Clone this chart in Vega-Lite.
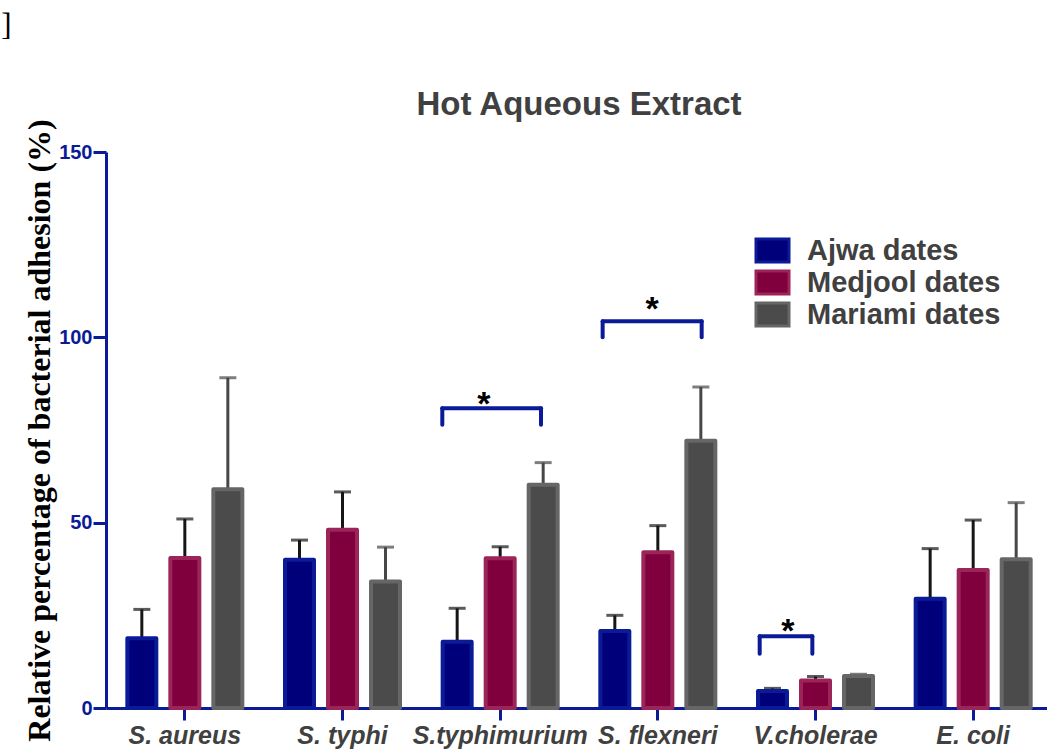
{
  "$schema": "https://vega.github.io/schema/vega-lite/v6.json",
  "width": 946,
  "height": 556,
  "autosize": {"type": "none"},
  "padding": {"left": 106, "top": 152, "right": 0, "bottom": 41},
  "background": "white",
  "title": {
    "text": "Hot Aqueous Extract",
    "font": "Liberation Sans",
    "fontSize": 33,
    "fontWeight": "bold",
    "color": "#404040",
    "anchor": "middle",
    "frame": "group",
    "baseline": "alphabetic",
    "offset": -138
  },
  "datasets": {
    "adhesion": [
      {"bacterium": "S. aureus", "dates": "Ajwa dates", "value": 18.8, "upper": 26.6},
      {"bacterium": "S. aureus", "dates": "Medjool dates", "value": 40.5, "upper": 51.0},
      {"bacterium": "S. aureus", "dates": "Mariami dates", "value": 59.0, "upper": 89.1},
      {"bacterium": "S. typhi", "dates": "Ajwa dates", "value": 40.0, "upper": 45.3},
      {"bacterium": "S. typhi", "dates": "Medjool dates", "value": 48.1, "upper": 58.3},
      {"bacterium": "S. typhi", "dates": "Mariami dates", "value": 34.1, "upper": 43.4},
      {"bacterium": "S.typhimurium", "dates": "Ajwa dates", "value": 17.9, "upper": 26.9},
      {"bacterium": "S.typhimurium", "dates": "Medjool dates", "value": 40.4, "upper": 43.5},
      {"bacterium": "S.typhimurium", "dates": "Mariami dates", "value": 60.2, "upper": 66.2},
      {"bacterium": "S. flexneri", "dates": "Ajwa dates", "value": 20.8, "upper": 25.0},
      {"bacterium": "S. flexneri", "dates": "Medjool dates", "value": 42.0, "upper": 49.2},
      {"bacterium": "S. flexneri", "dates": "Mariami dates", "value": 72.1, "upper": 86.6},
      {"bacterium": "V.cholerae", "dates": "Ajwa dates", "value": 4.6, "upper": 5.3},
      {"bacterium": "V.cholerae", "dates": "Medjool dates", "value": 7.4, "upper": 8.5},
      {"bacterium": "V.cholerae", "dates": "Mariami dates", "value": 8.6, "upper": 9.1},
      {"bacterium": "E. coli", "dates": "Ajwa dates", "value": 29.5, "upper": 43.0},
      {"bacterium": "E. coli", "dates": "Medjool dates", "value": 37.2, "upper": 50.7},
      {"bacterium": "E. coli", "dates": "Mariami dates", "value": 40.1, "upper": 55.4}
    ],
    "significance": [
      {"from": 2.133, "to": 2.759, "top": 80.85, "bottom": 76.4, "starX": 2.397, "starY": 84.44, "label": "*"},
      {"from": 3.150, "to": 3.778, "top": 104.35, "bottom": 100.0, "starX": 3.463, "starY": 110.07, "label": "*"},
      {"from": 4.146, "to": 4.480, "top": 19.34, "bottom": 14.65, "starX": 4.325, "starY": 23.28, "label": "*"}
    ],
    "marginalia": [
      {"px": -0.631, "py": 181.6, "label": "]"}
    ]
  },
  "layer": [
    {
      "data": {"name": "adhesion"},
      "layer": [
        {
          "mark": {"type": "rule", "strokeWidth": 3},
          "encoding": {
            "x": {"field": "bacterium", "type": "nominal", "sort": null},
            "xOffset": {"field": "dates", "type": "nominal", "sort": null},
            "y": {"field": "value", "type": "quantitative", "scale": {"domain": [0, 150]}},
            "y2": {"field": "upper"},
            "color": {"condition": {"test": "datum.dates === 'Mariami dates'", "value": "#474747"}, "value": "#161616"}
          }
        },
        {
          "mark": {"type": "tick", "thickness": 3, "size": 17},
          "encoding": {
            "x": {"field": "bacterium", "type": "nominal", "sort": null},
            "xOffset": {"field": "dates", "type": "nominal", "sort": null},
            "y": {"field": "upper", "type": "quantitative", "scale": {"domain": [0, 150]}},
            "color": {"condition": {"test": "datum.dates === 'Mariami dates'", "value": "#474747"}, "value": "#161616"}
          }
        },
        {
          "mark": {"type": "bar", "strokeWidth": 4, "strokeJoin": "round"},
          "encoding": {
            "x": {
              "field": "bacterium",
              "type": "nominal",
              "sort": null,
              "scale": {"paddingInner": 0, "paddingOuter": 0},
              "axis": {
                "title": null,
                "labelAngle": 0,
                "labelAlign": "center",
                "labelBaseline": "top",
                "labelOverlap": false,
                "bandPosition": 0.5,
                "ticks": true,
                "domainColor": "#0b1b98",
                "domainWidth": 3,
                "tickColor": "#0b1b98",
                "tickWidth": 3,
                "tickSize": 12,
                "labelFont": "Liberation Sans",
                "labelFontSize": 25,
                "labelFontWeight": "bold",
                "labelFontStyle": "italic",
                "labelColor": "#404040",
                "labelPadding": 3
              }
            },
            "xOffset": {
              "field": "dates",
              "type": "nominal",
              "sort": null,
              "scale": {"paddingInner": 0.326, "paddingOuter": 0.496}
            },
            "y": {
              "field": "value",
              "type": "quantitative",
              "scale": {"domain": [0, 150]},
              "axis": {
                "title": "Relative percentage of bacterial adhesion (%)",
                "values": [0, 50, 100, 150],
                "grid": false,
                "domainColor": "#0b1b98",
                "domainWidth": 3,
                "tickColor": "#0b1b98",
                "tickWidth": 3,
                "tickSize": 13,
                "labelFont": "Liberation Sans",
                "labelFontSize": 20,
                "labelFontWeight": "bold",
                "labelColor": "#0b1b98",
                "labelPadding": 1,
                "titleFont": "Liberation Serif",
                "titleFontSize": 32,
                "titleFontWeight": "bold",
                "titleColor": "#000000",
                "titlePadding": 2
              }
            },
            "fill": {
              "field": "dates",
              "type": "nominal",
              "sort": null,
              "scale": {
                "domain": ["Ajwa dates", "Medjool dates", "Mariami dates"],
                "range": ["#00007b", "#7f003c", "#4b4b4b"]
              },
              "legend": {"title": null}
            },
            "stroke": {
              "field": "dates",
              "type": "nominal",
              "sort": null,
              "scale": {
                "domain": ["Ajwa dates", "Medjool dates", "Mariami dates"],
                "range": ["#0b1b98", "#9b2559", "#666666"]
              },
              "legend": {"title": null}
            }
          }
        }
      ]
    },
    {
      "data": {"name": "significance"},
      "layer": [
        {
          "mark": {"type": "rule", "strokeWidth": 4, "color": "#0b1b98", "strokeCap": "round"},
          "encoding": {
            "x": {"field": "from", "type": "quantitative", "scale": {"domain": [0, 6], "nice": false, "zero": false}, "axis": null},
            "x2": {"field": "to"},
            "y": {"field": "top", "type": "quantitative", "scale": {"domain": [0, 150]}}
          }
        },
        {
          "mark": {"type": "rule", "strokeWidth": 4, "color": "#0b1b98", "strokeCap": "round"},
          "encoding": {
            "x": {"field": "from", "type": "quantitative", "scale": {"domain": [0, 6], "nice": false, "zero": false}, "axis": null},
            "y": {"field": "bottom", "type": "quantitative", "scale": {"domain": [0, 150]}},
            "y2": {"field": "top"}
          }
        },
        {
          "mark": {"type": "rule", "strokeWidth": 4, "color": "#0b1b98", "strokeCap": "round"},
          "encoding": {
            "x": {"field": "to", "type": "quantitative", "scale": {"domain": [0, 6], "nice": false, "zero": false}, "axis": null},
            "y": {"field": "bottom", "type": "quantitative", "scale": {"domain": [0, 150]}},
            "y2": {"field": "top"}
          }
        },
        {
          "mark": {"type": "text", "font": "Liberation Sans", "fontSize": 34, "fontWeight": "bold", "color": "#000000", "align": "center", "baseline": "alphabetic", "dy": 20},
          "encoding": {
            "x": {"field": "starX", "type": "quantitative", "scale": {"domain": [0, 6], "nice": false, "zero": false}, "axis": null},
            "y": {"field": "starY", "type": "quantitative", "scale": {"domain": [0, 150]}},
            "text": {"field": "label"}
          }
        },
        {
          "data": {"name": "marginalia"},
          "mark": {"type": "text", "font": "Liberation Serif", "fontSize": 31, "color": "#000000", "align": "center", "baseline": "alphabetic"},
          "encoding": {
            "x": {"field": "px", "type": "quantitative", "scale": {"domain": [0, 6], "nice": false, "zero": false}, "axis": null},
            "y": {"field": "py", "type": "quantitative", "scale": {"domain": [0, 150]}},
            "text": {"field": "label"}
          }
        }
      ]
    }
  ],
  "resolve": {"scale": {"x": "independent"}},
  "config": {
    "view": {"stroke": null},
    "legend": {
      "orient": "none",
      "legendX": 652,
      "legendY": 84,
      "symbolType": "M-1.32,-0.92H1.32V0.92H-1.32Z",
      "symbolSize": 625,
      "symbolStrokeWidth": 3,
      "labelFont": "Liberation Sans",
      "labelFontSize": 29,
      "labelFontWeight": "bold",
      "labelColor": "#404040",
      "labelOffset": 20,
      "labelLimit": 400,
      "rowPadding": -3,
      "padding": 0
    }
  }
}
